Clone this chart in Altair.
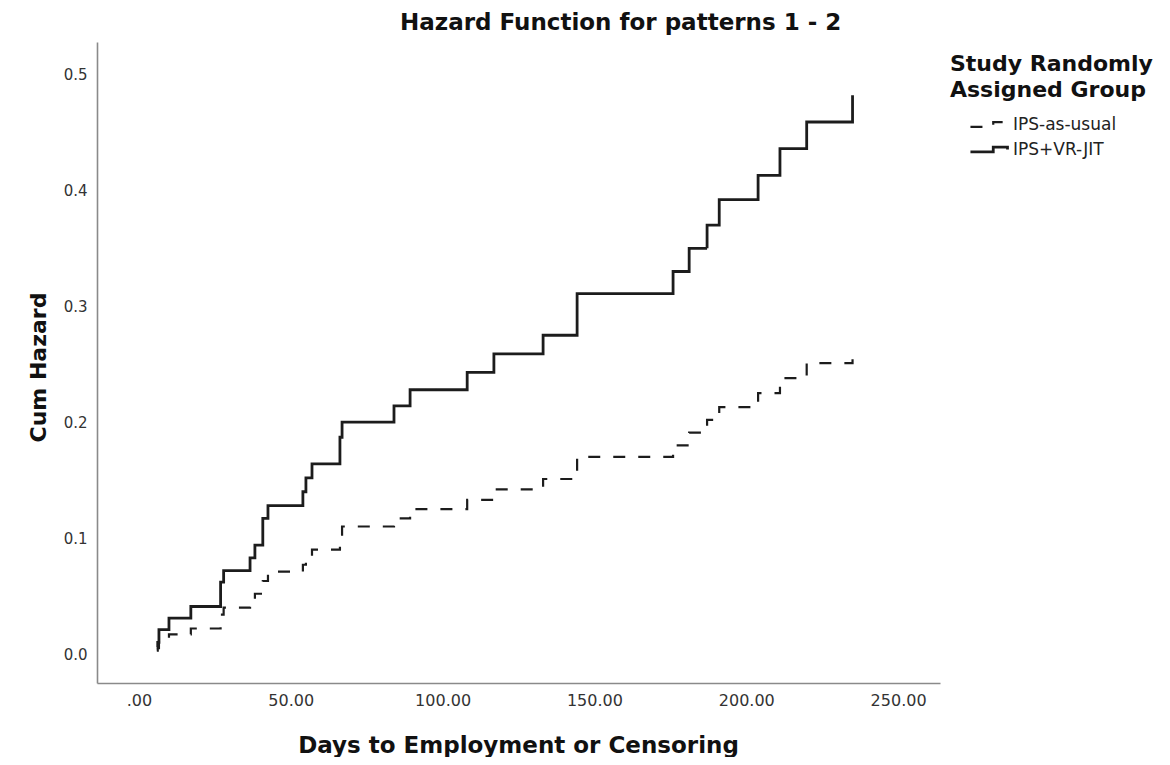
import altair as alt
import pandas as pd

# Event times (days) shared by both pattern curves
days = [5.9, 6.2, 6.6, 9.9, 17.1, 26.9, 27.9, 36.6, 38.2, 40.8, 42.5, 54.0, 55.0,
        57.0, 66.2, 66.9, 84.0, 89.3, 108.1, 116.9, 133.1, 144.3, 175.9, 181.2,
        187.1, 191.1, 203.9, 211.1, 219.9, 235.0]
# Cumulative hazard, IPS-as-usual (dashed)
ips_as_usual = [0.003, 0.005, 0.012, 0.017, 0.022, 0.034, 0.040, 0.045, 0.052, 0.063,
                0.071, 0.077, 0.084, 0.090, 0.102, 0.110, 0.117, 0.125, 0.133, 0.142,
                0.151, 0.170, 0.180, 0.191, 0.202, 0.213, 0.225, 0.238, 0.251, 0.263]
# Cumulative hazard, IPS+VR-JIT (solid)
ips_vr_jit = [0.006, 0.010, 0.021, 0.031, 0.041, 0.062, 0.072, 0.083, 0.094, 0.117,
              0.128, 0.140, 0.152, 0.164, 0.187, 0.200, 0.214, 0.228, 0.243, 0.259,
              0.275, 0.311, 0.330, 0.350, 0.370, 0.392, 0.413, 0.436, 0.459, 0.482]
groups = ["IPS-as-usual", "IPS+VR-JIT"]
x_ticks = [0, 50, 100, 150, 200, 250]
y_ticks = [0.0, 0.1, 0.2, 0.3, 0.4, 0.5]

rows = []
for d, a, b in zip(days, ips_as_usual, ips_vr_jit):
    rows.append({"day": d, "hazard": a, "group": groups[0]})
    rows.append({"day": d, "hazard": b, "group": groups[1]})
df = pd.DataFrame(rows)

FONT = "DejaVu Sans"
W, H = 843, 641
L, T = 89, 34

step_symbol = "M-1.27,0.16H0.25V-0.16H1.2V0"

chart = alt.Chart(df).mark_line(interpolate="step-after", color="#1c1c1c").encode(
    x=alt.X("day:Q",
            scale=alt.Scale(domain=[-13.8, 263.8], nice=False, zero=False),
            axis=alt.Axis(values=x_ticks,
                          labelExpr="datum.value == 0 ? '.00' : format(datum.value, '.2f')",
                          title="Days to Employment or Censoring",
                          grid=False, ticks=False, labelPadding=9,
                          labelFontSize=16, labelColor="#333", labelFont=FONT,
                          titleFont=FONT, titleFontSize=23, titleFontWeight="bold",
                          titleColor="#111", titleX=421, titleY=62,
                          titleBaseline="middle", titleAlign="center",
                          domainColor="#8a8a8a", domainWidth=1.6)),
    y=alt.Y("hazard:Q",
            scale=alt.Scale(domain=[-0.025, 0.528], nice=False, zero=False),
            axis=alt.Axis(values=y_ticks, format=".1f", title="Cum Hazard",
                          grid=False, ticks=False, labelPadding=10,
                          labelFontSize=15, labelColor="#333", labelFont=FONT,
                          titleFont=FONT, titleFontSize=22, titleFontWeight="bold",
                          titleColor="#111", titleX=-59, titleY=325, titleAngle=-90,
                          titleBaseline="middle", titleAlign="center",
                          domainColor="#8a8a8a", domainWidth=1.6)),
    strokeDash=alt.StrokeDash(
        "group:N",
        scale=alt.Scale(domain=groups, range=[[12, 13], [1, 0]]),
        legend=alt.Legend(title=["Study Randomly", "Assigned Group"],
                          orient="none", legendX=853, legendY=12,
                          titleFont=FONT, titleFontSize=22, titleFontWeight="bold",
                          titleColor="#111", titleLineHeight=26, titlePadding=6,
                          titleLimit=400, labelLimit=300,
                          labelFont=FONT, labelFontSize=17, labelColor="#222",
                          labelOffset=7, symbolType=step_symbol, symbolSize=900,
                          symbolStrokeColor="#1c1c1c", symbolStrokeWidth=2.4,
                          symbolFillColor="transparent", symbolOffset=23,
                          rowPadding=0, padding=0)),
    strokeWidth=alt.StrokeWidth("group:N",
                                scale=alt.Scale(domain=groups, range=[2.2, 2.8]),
                                legend=None),
).properties(
    width=W, height=H,
    title=alt.TitleParams("Hazard Function for patterns 1 - 2", anchor="start",
                          frame="group", dx=303, offset=7, font=FONT,
                          fontSize=23, fontWeight="bold", color="#111"),
    autosize=alt.AutoSizeParams(type="none"),
    padding={"left": L, "top": T, "right": 222, "bottom": 74},
).configure_view(stroke=None)

chart.save("out.html", embed_options={"renderer": "svg", "actions": False})
